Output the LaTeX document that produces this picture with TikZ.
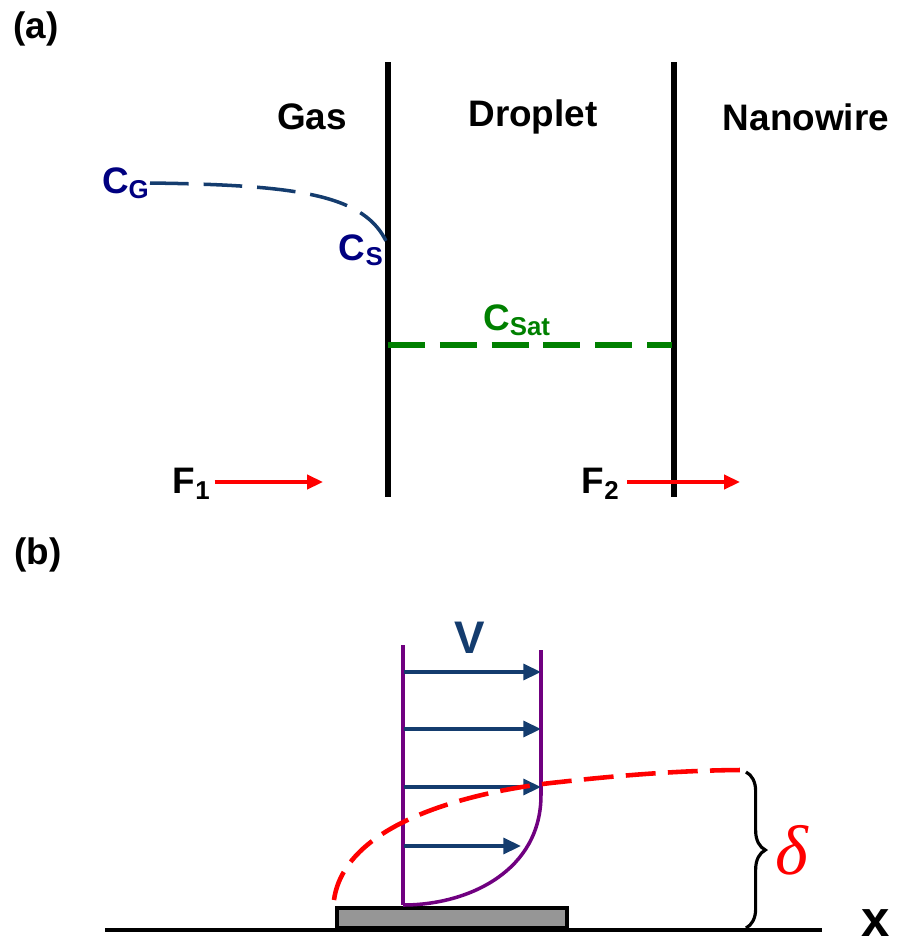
\documentclass[tikz,border=0pt]{standalone}
\usepackage{amsmath}
\usepackage{fontspec}
\usepackage{tikz}
\usetikzlibrary{arrows.meta,calc,positioning,decorations.pathreplacing}
\newfontfamily\labfont{Liberation Sans}
\newfontfamily\greekfont{Liberation Serif}
\definecolor{FilmNavy}{RGB}{0,0,128}
\definecolor{FlowBlue}{RGB}{20,60,110}
\definecolor{SatGreen}{RGB}{0,128,0}
\definecolor{ProfPurple}{RGB}{112,0,128}
\definecolor{SubGray}{RGB}{150,150,150}

\begin{document}
\begin{tikzpicture}[x=0.02cm, y=-0.02cm,
    lab/.style={font=\labfont\bfseries\fontsize{21}{25}\selectfont, inner sep=0pt},
    wall/.style={line width=2.9pt, black},
    flux/.style={-{Triangle[length=9pt,width=8pt]}, red, line width=2pt},
    vel/.style={-{Triangle[length=10pt,width=9pt]}, FlowBlue, line width=2pt}]
    \useasboundingbox (0,0) rectangle (897,948);
    % (a) film model
    \node[lab] (pa) at (36,29) {(a)};
    \draw[wall] (388,62) -- (388,497);
    \draw[wall] (674,62) -- (674,497);
    \node[lab] (gas) at (312,117) {Gas};
    \node[lab] (drop) at (533,117) {Droplet};
    \node[lab] (wire) at (806,117) {Nanowire};
    \node[lab, FilmNavy, anchor=east] (cg) at (150,183) {C\textsubscript{G}};
    \coordinate (cs0) at (387,243);
    \draw[FlowBlue, line width=2pt, dash pattern=on 22pt off 8.5pt]
        (cg.east) .. controls (300,185) and (365,195) .. (cs0);
    \node[lab, FilmNavy, anchor=east] (cs) at (384,250) {C\textsubscript{S}};
    \node[lab, SatGreen] (csat) at (517,320) {C\textsubscript{Sat}};
    \coordinate (sat0) at (388,345);
    \coordinate (sat1) at (672,345);
    \draw[SatGreen, line width=3.3pt, dash pattern=on 21pt off 8.5pt] (sat0) -- (sat1);
    \node[lab, anchor=east] (f1) at (211,484) {F\textsubscript{1}};
    \coordinate (f1e) at (323,482);
    \draw[flux] ([xshift=2pt]f1.east |- f1e) -- (f1e);
    \node[lab, anchor=east] (f2) at (620,484) {F\textsubscript{2}};
    \coordinate (f2e) at (740,482);
    \draw[flux] ([xshift=4pt]f2.east |- f2e) -- (f2e);
    % (b) boundary layer
    \node[lab] (pb) at (38,555) {(b)};
    \coordinate (xl) at (105,930);
    \coordinate (xr) at (822,930);
    \draw[line width=2.7pt] (xl) -- (xr);
    \node[lab, font=\labfont\bfseries\fontsize{29}{33}\selectfont, anchor=base] (xax) at (876,936) {x};
    \draw[fill=SubGray, line width=2.7pt] (337,908) rectangle (567,928);
    \coordinate (pl0) at (403,645);
    \coordinate (pl1) at (403,905);
    \coordinate (pr0) at (541,650);
    \coordinate (pr1) at (541,795);
    \draw[ProfPurple, line width=2pt] (pl0) -- (pl1);
    \draw[ProfPurple, line width=2pt] (pr0) -- (pr1) .. controls (541,870) and (470,905) .. (pl1);
    \node[lab, FlowBlue, font=\labfont\bfseries\fontsize{26}{30}\selectfont] (vv) at (470,638) {V};
    \foreach \yy/\xx in {672/541, 729/541, 787/541, 846/521}
        \draw[vel] (404,\yy) -- (\xx,\yy);
    \coordinate (d0) at (334,900);
    \coordinate (d1) at (746,770);
    \draw[red, line width=2.6pt, dash pattern=on 17pt off 7pt]
        (d0) .. controls (345,820) and (480,790) .. (560,782) .. controls (640,773) and (700,770) .. (d1);
    \coordinate (b0) at (746,772);
    \coordinate (b1) at (746,928);
    \draw[line width=1.8pt, decorate, decoration={brace, amplitude=11pt}] (b0) -- (b1);
    \node[red, font=\greekfont\itshape\fontsize{40}{44}\selectfont] (dl) at (792,850) {δ};
\end{tikzpicture}
\end{document}
